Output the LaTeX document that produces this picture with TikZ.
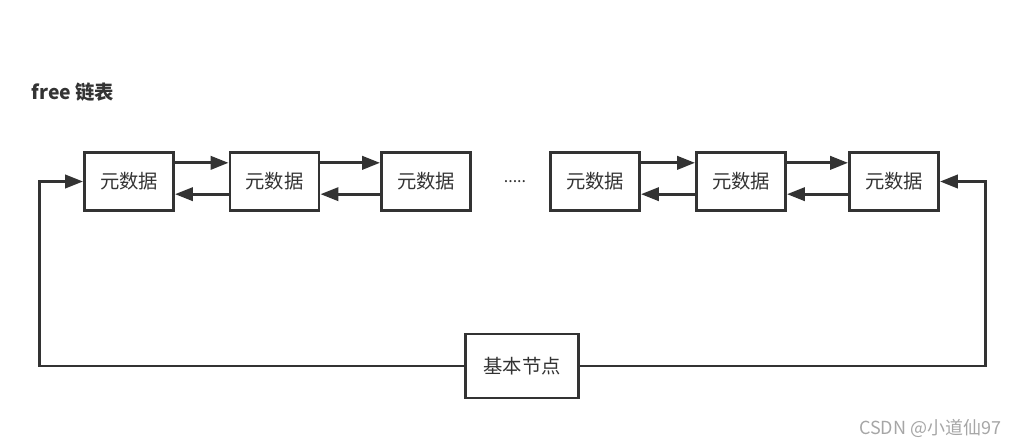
\documentclass[tikz,border=0pt]{standalone}
\usepackage{fontspec}
\setmainfont{Noto Sans CJK SC}
\usetikzlibrary{arrows.meta,positioning,calc}
\definecolor{linec}{HTML}{333333}

\begin{document}
\begin{tikzpicture}[x=0.75pt,y=-0.75pt,
	meta/.style={draw=linec,line width=2.2pt,minimum width=66.75pt,minimum height=43.5pt,inner sep=0pt,font=\fontsize{14.5pt}{16pt}\selectfont,text=linec},
	base/.style={meta,minimum width=84.75pt,minimum height=48pt},
	link/.style={draw=linec,line width=2.2pt,-{Triangle[length=13.5pt,width=10pt]}},
	wire/.style={draw=linec,line width=2.2pt}]
	\useasboundingbox (0,0) rectangle (1020,446);

	\node[anchor=west,font=\fontsize{14.5pt}{16pt}\selectfont\bfseries,text=linec] (title) at (27,92) {free 链表};

	\foreach \i/\x in {1/129,2/274.5,3/426,4/595,5/741,6/894}
		\node[meta] (m\i) at (\x,181.5) {元数据};
	\node[font=\fontsize{12pt}{13pt}\selectfont,text=linec] (dots) at (515,182) {.....};

	\foreach \a/\b in {1/2,2/3,4/5,5/6} {
		\draw[link] ([yshift=14pt]m\a.east) -- ([yshift=14pt]m\b.west);
		\draw[link] ([yshift=-9.5pt]m\b.west) -- ([yshift=-9.5pt]m\a.east);
	}

	\node[base] (root) at (522,366) {基本节点};
	\draw[link] (root.west) -| ([xshift=-33pt]m1.west) -- (m1.west);
	\draw[link] (root.east) -| ([xshift=34pt]m6.east) -- (m6.east);

	\node[anchor=east,font=\fontsize{13.5pt}{15pt}\selectfont,text=black!35] (mark) at (1006,428) {CSDN @小道仙97};
\end{tikzpicture}
\end{document}
